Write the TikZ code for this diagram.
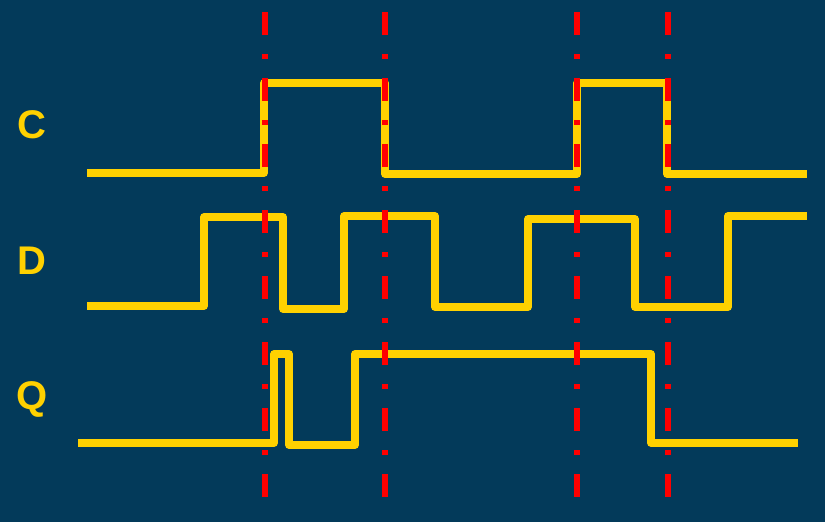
\documentclass[tikz,border=0pt]{standalone}
\usepackage{fontspec}
\setmainfont{Liberation Sans}
\definecolor{bgblue}{HTML}{033A5A}
\definecolor{sig}{HTML}{FFD100}
\definecolor{mark}{HTML}{FF0000}
\begin{document}
\begin{tikzpicture}[x=1pt,y=-1pt,
  wave/.style={draw=sig,line width=7.5pt,line join=round,line cap=butt},
  edge/.style={draw=mark,line width=5.5pt,dash pattern=on 23pt off 19pt on 5pt off 19pt},
  lab/.style={text=sig,font=\fontsize{40}{40}\selectfont\bfseries,inner sep=0pt}]
\fill[bgblue] (0,0) rectangle (825,522);
\useasboundingbox (0,0) rectangle (825,522);
% labels
\node[lab] (lc) at (32,125) {C};
\node[lab] (ld) at (32,261) {D};
\node[lab] (lq) at (32,399) {Q};
% clock
\draw[wave] (87,173) -- (264,173) -- (264,83) -- (385,83) -- (385,174) -- (577,174) -- (577,83) -- (667,83) -- (667,174) -- (807,174);
% data
\draw[wave] (87,306) -- (204,306) -- (204,217) -- (283,217) -- (283,309) -- (344,309) -- (344,216) -- (435,216) -- (435,307) -- (528,307) -- (528,219) -- (635,219) -- (635,307) -- (728,307) -- (728,216) -- (807,216);
% output
\draw[wave] (78,443) -- (274,443) -- (274,354) -- (289,354) -- (289,445) -- (355,445) -- (355,354) -- (651,354) -- (651,443) -- (798,443);
% clock edges
\coordinate (e1t) at (265,12); \coordinate (e1b) at (265,500);
\coordinate (e2t) at (385,12); \coordinate (e2b) at (385,500);
\coordinate (e3t) at (577,12); \coordinate (e3b) at (577,500);
\coordinate (e4t) at (668,12); \coordinate (e4b) at (668,500);
\draw[edge] (e1t) -- (e1b);
\draw[edge] (e2t) -- (e2b);
\draw[edge] (e3t) -- (e3b);
\draw[edge] (e4t) -- (e4b);
\end{tikzpicture}
\end{document}
